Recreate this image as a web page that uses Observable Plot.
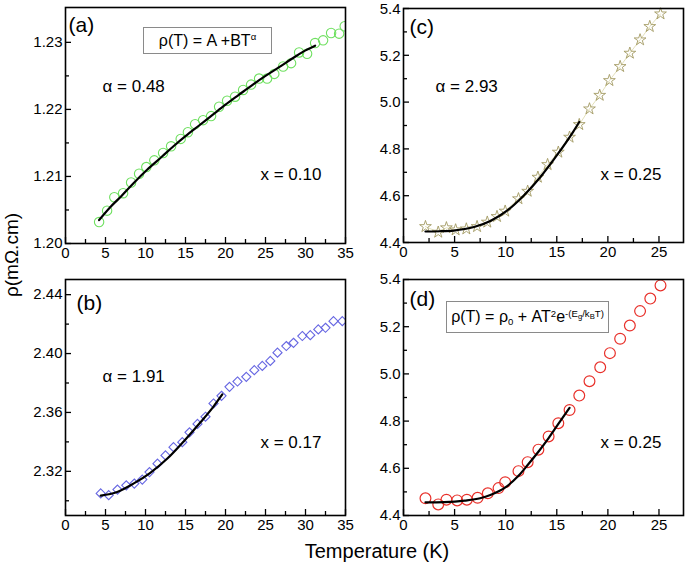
<!DOCTYPE html>
<html><head><meta charset="utf-8">
<script src="https://cdn.jsdelivr.net/npm/d3@7"></script>
<script src="https://cdn.jsdelivr.net/npm/@observablehq/plot@0.6"></script>
<style>
body{margin:0;background:#fff;}
#fig{position:relative;width:685px;height:565px;overflow:hidden;font-family:"Liberation Sans",Arial,sans-serif;color:#000;background:#fff;}
.formula{position:absolute;border:1px solid #8a8a8a;box-sizing:border-box;display:flex;align-items:center;justify-content:center;font-size:16px;white-space:nowrap;line-height:1;}
.sp{position:relative;top:-0.55em;font-size:0.6em;}
.sb{position:relative;top:0.3em;font-size:0.6em;}
.sp .sb{font-size:0.8em;top:0.25em;}
</style></head><body><div id="fig"></div>
<script>
// ---------- data ----------
// (a) x = 0.10
const Ta = [4.2,5.2,6.1,7.2,8.2,9.2,10.1,11.1,12.2,13.2,14.4,15.3,16.2,17.2,18.2,19.2,20.2,21.2,22.2,23.2,24.2,25.2,26.1,27.2,28.2,29.2,30.2,31.2,32.2,33.2,34.2,34.9];
const rhoA = [1.2032,1.2049,1.2069,1.2075,1.2091,1.2104,1.2114,1.2124,1.2135,1.2145,1.2156,1.2166,1.2178,1.2184,1.2190,1.2204,1.2213,1.2219,1.2229,1.2237,1.2246,1.2246,1.2253,1.2264,1.2269,1.2285,1.2283,1.2299,1.2303,1.2314,1.2313,1.2324];
const fitTa = [4.2,5.5,7,8.5,10.2,12,13.5,15,16.7,18.5,20,21.7,23.3,25,26.7,28.5,30,31.2];
const fitRhoA = [1.2035,1.2053,1.2071,1.2090,1.2110,1.2129,1.2145,1.2160,1.2176,1.2193,1.2207,1.2222,1.2236,1.2250,1.2263,1.2277,1.2288,1.2295];
// (b) x = 0.17
const Tb = [4.4,5.4,6.5,7.6,8.6,9.6,10.5,11.5,12.5,13.5,14.6,15.5,16.5,17.5,18.5,19.5,20.5,21.5,22.6,23.6,24.6,25.6,26.5,27.6,28.5,29.6,30.6,31.6,32.5,33.5,34.6];
const rhoB = [2.3050,2.3038,2.3076,2.3105,2.3117,2.3144,2.3195,2.3252,2.3308,2.3364,2.3398,2.3465,2.3522,2.3571,2.3661,2.3713,2.3774,2.3810,2.3842,2.3887,2.3916,2.3950,2.4006,2.4051,2.4073,2.4119,2.4125,2.4164,2.4175,2.4220,2.4220];
const fitTb = [4.4,6.46,8.54,10.6,12.7,14.8,16.9,18.5,19.6];
const fitRhoB = [2.3035,2.3060,2.3118,2.3190,2.3285,2.3405,2.3535,2.3640,2.3722];
// (c) x = 0.25, power law
const Tc = [2.15,3.4,4.2,5.1,6.15,7.2,8.2,9.15,9.95,11.25,12.15,13.15,14.1,15.15,16.25,17.2,18.2,19.2,20.15,21.2,22.15,23.15,24.1,25.15];
const rhoC = [4.468,4.444,4.463,4.454,4.458,4.468,4.487,4.511,4.534,4.587,4.619,4.679,4.733,4.786,4.850,4.904,4.971,5.029,5.092,5.152,5.209,5.266,5.323,5.377];
const fitTc = [2.15,3.5,4.9,6.9,8.5,10.1,11.75,13.4,15.0,16.6,17.2];
const fitRhoC = [4.447,4.448,4.451,4.466,4.492,4.535,4.600,4.680,4.772,4.873,4.915];
// (d) x = 0.25, gap model
const Td = [2.15,3.4,4.2,5.25,6.2,7.25,8.25,9.3,9.95,11.25,12.15,13.2,14.2,15.15,16.25,17.2,18.2,19.25,20.2,21.2,22.15,23.15,24.15,25.15];
const rhoD = [4.473,4.447,4.467,4.464,4.467,4.475,4.494,4.516,4.541,4.588,4.626,4.679,4.735,4.791,4.847,4.908,4.969,5.028,5.088,5.149,5.205,5.266,5.319,5.375];
const fitTd = [2.15,4,6,7.5,8.5,10,11.25,12.15,13.2,14.2,15.17,16.25];
const fitRhoD = [4.456,4.457,4.463,4.473,4.487,4.520,4.568,4.614,4.670,4.728,4.789,4.856];

// ticks
const xTicksAB = [0,5,10,15,20,25,30,35];
const xMinorAB = [2.5,7.5,12.5,17.5,22.5,27.5,32.5];
const xTicksCD = [0,5,10,15,20,25];
const xMinorCD = [2.5,7.5,12.5,17.5,22.5];
const yTicksA = [1.20,1.21,1.22,1.23];
const yMinorA = [1.205,1.215,1.225];
const yTicksB = [2.32,2.36,2.40,2.44];
const yMinorB = [2.30,2.34,2.38,2.42];
const yTicksCD = [4.4,4.6,4.8,5.0,5.2,5.4];
const yMinorCD = [4.5,4.7,4.9,5.1,5.3];

// texts
const panelTags = ["(a)","(b)","(c)","(d)"];
const alphaTexts = ["α = 0.48","α = 1.91","α = 2.93"];
const xTexts = ["x = 0.10","x = 0.17","x = 0.25","x = 0.25"];
const xTitle = "Temperature (K)";
const yTitle = "ρ(mΩ.cm)";

// ---------- drawing ----------
const FONT = '"Liberation Sans", Arial, sans-serif';
const zip = (T, R) => T.map((t, i) => ({T: t, rho: R[i]}));
const fig = document.getElementById("fig");

function note(str, dx, dy, size) {
  return Plot.text([str], {frameAnchor: "top-left", text: d => d, dx, dy, textAnchor: "start", lineAnchor: "bottom", fontSize: size, fill: "#000"});
}

function panel(o) {
  const svg = Plot.plot({
    width: o.width, height: o.height,
    marginLeft: o.ml, marginRight: o.mr, marginTop: o.mt, marginBottom: o.mb,
    x: {domain: o.xDomain},
    y: {domain: o.yDomain},
    style: {position: "absolute", left: o.left + "px", top: o.top + "px", background: "transparent", overflow: "visible", fontFamily: FONT, color: "#000"},
    marks: [
      ...o.marks,
      Plot.axisX(o.xMajor, {tickSize: 0, tickPadding: 4, fontSize: 15, label: null, tickFormat: d3.format("d")}),
      Plot.axisX(o.xMajor, {tickSize: -6, fill: "none", label: null, strokeWidth: 1.3}),
      Plot.axisX(o.xMinor, {tickSize: -4, fill: "none", label: null, strokeWidth: 1.3}),
      Plot.axisY(o.yMajor, {tickSize: 0, tickPadding: 3, fontSize: 15, label: null, tickFormat: d3.format(o.yFmt), dy: o.ydy || 0}),
      Plot.axisY(o.yMajor, {tickSize: -6, fill: "none", label: null, strokeWidth: 1.3}),
      Plot.axisY(o.yMinor, {tickSize: -4, fill: "none", label: null, strokeWidth: 1.3}),
      Plot.frame({stroke: "#000", strokeWidth: 1.6}),
      ...o.notes
    ]
  });
  fig.appendChild(svg);
}

const fitLine = (data) => Plot.line(data, {x: "T", y: "rho", stroke: "#000", strokeWidth: 2.2, curve: "monotone-x"});

// (a)
panel({
  left: 0, top: 0, width: 350, height: 270, ml: 65, mr: 5, mt: 7, mb: 27,
  xDomain: [0, 35], yDomain: [1.20, 1.2352],
  xMajor: xTicksAB, xMinor: xMinorAB, yMajor: yTicksA, yMinor: yMinorA, yFmt: ".2f",
  marks: [
    Plot.dot(zip(Ta, rhoA), {x: "T", y: "rho", r: 4.7, stroke: "#6fe060", strokeWidth: 1.1, fill: "none", clip: true}),
    fitLine(zip(fitTa, fitRhoA))
  ],
  notes: [note(panelTags[0], 3, 24, 21), note(alphaTexts[0], 37, 84, 17), note(xTexts[0], 195, 172, 17)]
});
// (b)
panel({
  left: 0, top: 260, width: 350, height: 282, ml: 65, mr: 5, mt: 19, mb: 27,
  xDomain: [0, 35], yDomain: [2.29, 2.4503],
  xMajor: xTicksAB, xMinor: xMinorAB, yMajor: yTicksB, yMinor: yMinorB, yFmt: ".2f",
  marks: [
    Plot.dot(zip(Tb, rhoB), {x: "T", y: "rho", symbol: "diamond2", r: 4.1, stroke: "#6666e2", strokeWidth: 1.1, fill: "none", clip: true}),
    fitLine(zip(fitTb, fitRhoB))
  ],
  notes: [note(panelTags[1], 11, 30, 21), note(alphaTexts[1], 37, 102, 17), note(xTexts[1], 195, 168, 17)]
});
// (c)
panel({
  left: 340, top: 0, width: 345, height: 270, ml: 63, mr: 2, mt: 8, mb: 28,
  xDomain: [0, 27.4], yDomain: [4.4, 5.4], ydy: 0.5,
  xMajor: xTicksCD, xMinor: xMinorCD, yMajor: yTicksCD, yMinor: yMinorCD, yFmt: ".1f",
  marks: [
    Plot.line(zip(Tc, rhoC), {x: "T", y: "rho", stroke: "#dcd8a8", strokeWidth: 0.8}),
    Plot.dot(zip(Tc, rhoC), {x: "T", y: "rho", symbol: "star", r: 3.7, stroke: "#a39a62", strokeWidth: 0.9, fill: "none"}),
    fitLine(zip(fitTc, fitRhoC))
  ],
  notes: [note(panelTags[2], 6, 25, 21), note(alphaTexts[2], 32, 83, 17), note(xTexts[2], 197, 171, 17)]
});
// (d)
panel({
  left: 340, top: 260, width: 345, height: 282, ml: 63, mr: 2, mt: 19, mb: 27,
  xDomain: [0, 27.4], yDomain: [4.4, 5.4],
  xMajor: xTicksCD, xMinor: xMinorCD, yMajor: yTicksCD, yMinor: yMinorCD, yFmt: ".1f",
  marks: [
    Plot.dot(zip(Td, rhoD), {x: "T", y: "rho", r: 5.4, stroke: "#e8302a", strokeWidth: 1.2, fill: "none"}),
    fitLine(zip(fitTd, fitRhoD))
  ],
  notes: [note(panelTags[3], 6, 26, 21), note(xTexts[3], 197, 168, 17)]
});

// formula boxes
const fa = document.createElement("div");
fa.className = "formula";
Object.assign(fa.style, {left: "143px", top: "27px", width: "129px", height: "27px"});
fa.innerHTML = '<span>ρ(T) = A +BT<span class="sp">α</span></span>';
fig.appendChild(fa);

const fd = document.createElement("div");
fd.className = "formula";
Object.assign(fd.style, {left: "446px", top: "301px", width: "163px", height: "32px"});
fd.innerHTML = '<span>ρ(T) = ρ<span class="sb">0</span> + AT<span class="sp">2</span>e<span class="sp">-(E<span class="sb">g</span>/k<span class="sb">B</span>T)</span></span>';
fig.appendChild(fd);

// axis titles
const ns = "http://www.w3.org/2000/svg";
const ov = document.createElementNS(ns, "svg");
ov.setAttribute("width", 685); ov.setAttribute("height", 565);
Object.assign(ov.style, {position: "absolute", left: "0px", top: "0px", overflow: "visible", fontFamily: FONT});
const t1 = document.createElementNS(ns, "text");
t1.setAttribute("x", 377); t1.setAttribute("y", 558); t1.setAttribute("text-anchor", "middle"); t1.setAttribute("font-size", 20);
t1.textContent = xTitle; ov.appendChild(t1);
const t2 = document.createElementNS(ns, "text");
t2.setAttribute("transform", "translate(18,255) rotate(-90)"); t2.setAttribute("text-anchor", "middle"); t2.setAttribute("font-size", 19);
t2.textContent = yTitle; ov.appendChild(t2);
fig.appendChild(ov);
</script></body></html>
